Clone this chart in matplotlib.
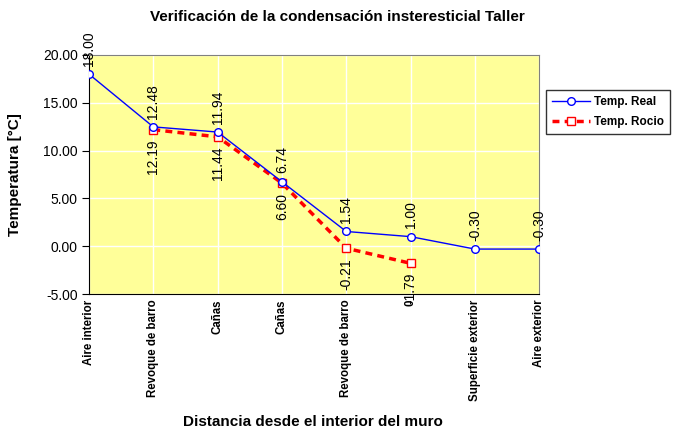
import matplotlib.pyplot as plt

plt.rcParams['font.family'] = ['Liberation Sans', 'DejaVu Sans']

categories = ['Aire interior', 'Revoque de barro', 'Cañas', 'Cañas',
              'Revoque de barro', '0', 'Superficie exterior', 'Aire exterior']
temp_real = [18.00, 12.48, 11.94, 6.74, 1.54, 1.00, -0.30, -0.30]
temp_rocio = [None, 12.19, 11.44, 6.60, -0.21, -1.79, None, None]

x = list(range(len(categories)))

fig = plt.figure(figsize=(6.74, 4.33), dpi=100)
ax = fig.add_axes([0.132, 0.321, 0.668, 0.552])
ax.set_facecolor('#FFFF99')

ax.plot(x, temp_real, color='#0000FF', lw=1, marker='o', ms=5.5,
        mfc='white', mec='#0000FF', mew=1, label='Temp. Real', zorder=4)
rx = [i for i, v in zip(x, temp_rocio) if v is not None]
ry = [v for v in temp_rocio if v is not None]
ax.plot(rx, ry, color='#FF0000', lw=2.5, ls=(0, (2, 1.5)), marker='s', ms=5.5,
        mfc='white', mec='#FF0000', mew=1, label='Temp. Rocio', zorder=3)

for i, v in zip(x, temp_real):
    ax.annotate(f'{v:.2f}', (i, v), xytext=(0, 6), textcoords='offset points',
                rotation=90, ha='center', va='bottom', fontsize=10,
                annotation_clip=False, zorder=5)
for i, v in zip(rx, ry):
    ax.annotate(f'{v:.2f}', (i, v), xytext=(0, -7), textcoords='offset points',
                rotation=90, ha='center', va='top', fontsize=10,
                annotation_clip=False, zorder=5)

ax.set_xlim(0, len(categories) - 1)
ax.set_ylim(-5, 20)
ax.set_yticks([-5, 0, 5, 10, 15, 20])
ax.set_yticklabels([f'{t:.2f}' for t in [-5, 0, 5, 10, 15, 20]], fontsize=10)
ax.set_xticks(x)
ax.set_xticklabels(categories, rotation=90, fontsize=8.3, fontweight='bold')
ax.tick_params(axis='x', length=0, pad=4)
ax.tick_params(axis='y', length=5, direction='out', pad=3)
ax.grid(True, color='white', lw=1)
ax.set_axisbelow(True)
for s in ['top', 'right']:
    ax.spines[s].set_color('#808080')
for s in ['left', 'bottom']:
    ax.spines[s].set_color('black')

fig.text(0.022, 0.596, 'Temperatura [°C]', rotation=90, ha='center',
         va='center', fontsize=11, fontweight='bold')
fig.text(0.465, 0.025, 'Distancia desde el interior del muro', ha='center',
         va='center', fontsize=11, fontweight='bold')
fig.text(0.5, 0.96, 'Verificación de la condensación insteresticial Taller',
         ha='center', va='center', fontsize=11, fontweight='bold')

leg = ax.legend(loc='upper left', bbox_to_anchor=(1.016, 0.854),
                prop={'weight': 'bold', 'size': 8.5}, fancybox=False,
                edgecolor='black', handlelength=3.2, handletextpad=0.3,
                borderpad=0.5, labelspacing=0.7, borderaxespad=0)
leg.get_frame().set_linewidth(1)

fig.savefig('out.png', dpi=100)
